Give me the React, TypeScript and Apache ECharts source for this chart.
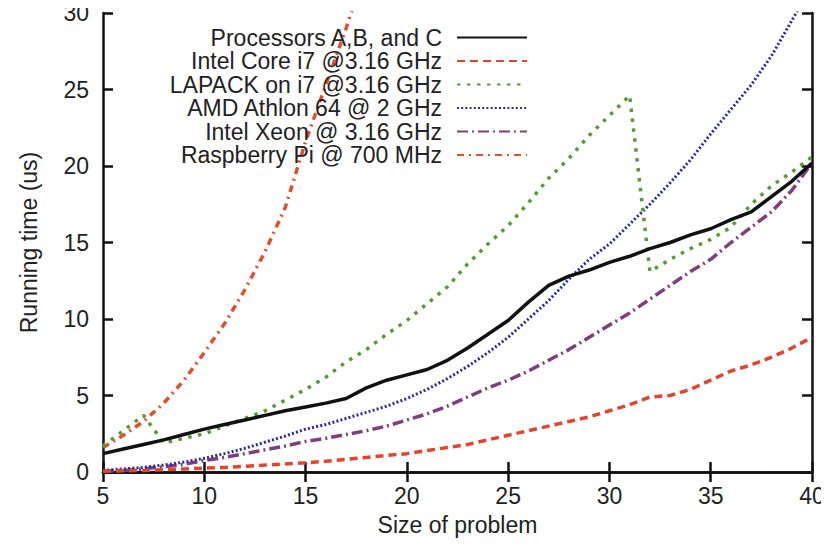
import React, { useEffect, useRef } from "react";
import * as echarts from "echarts";

const sizes = [5, 6, 7, 8, 9, 10, 11, 12, 13, 14, 15, 16, 17, 18, 19, 20, 21, 22, 23, 24, 25, 26, 27, 28, 29, 30, 31, 32, 33, 34, 35, 36, 37, 38, 39, 40];

const processorsABC = [1.2, 1.5, 1.8, 2.1, 2.45, 2.8, 3.1, 3.4, 3.7, 4.0, 4.25, 4.5, 4.8, 5.5, 6.0, 6.35, 6.7, 7.3, 8.1, 9.0, 9.9, 11.1, 12.2, 12.8, 13.2, 13.7, 14.1, 14.6, 15.0, 15.5, 15.9, 16.5, 17.0, 18.0, 19.0, 20.2];
const intelCoreI7 = [0.05, 0.08, 0.1, 0.15, 0.2, 0.25, 0.3, 0.38, 0.45, 0.53, 0.6, 0.7, 0.82, 0.95, 1.08, 1.2, 1.4, 1.6, 1.8, 2.1, 2.4, 2.7, 3.0, 3.3, 3.6, 4.0, 4.4, 4.9, 5.0, 5.4, 6.0, 6.6, 7.0, 7.5, 8.1, 8.8];
const lapackI7 = [1.7, 2.7, 3.7, 1.9, 2.2, 2.5, 3.0, 3.5, 4.0, 4.7, 5.4, 6.2, 7.2, 8.0, 9.0, 9.9, 11.0, 12.1, 13.6, 14.9, 16.1, 17.6, 19.2, 20.5, 22.0, 23.3, 24.6, 13.1, 13.9, 14.6, 15.2, 16.0, 17.5, 18.7, 19.6, 20.6];
const amdAthlon = [0.1, 0.2, 0.3, 0.45, 0.65, 0.9, 1.2, 1.55, 1.95, 2.35, 2.8, 3.1, 3.5, 3.9, 4.3, 4.8, 5.4, 6.1, 6.9, 7.8, 8.8, 10.0, 11.2, 12.6, 13.9, 14.9, 16.2, 17.5, 18.9, 20.4, 22.1, 23.7, 25.3, 27.2, 29.5, 31.8];
const intelXeon = [0.05, 0.1, 0.2, 0.35, 0.5, 0.75, 0.95, 1.2, 1.45, 1.7, 2.0, 2.2, 2.45, 2.7, 3.0, 3.4, 3.8, 4.3, 4.9, 5.5, 6.0, 6.6, 7.3, 8.0, 8.8, 9.6, 10.4, 11.3, 12.2, 13.1, 13.9, 15.0, 16.0, 17.0, 18.4, 20.2];
const raspberrySizes = [5, 6, 7, 8, 9, 10, 11, 12, 13, 14, 15, 16, 17, 18];
const raspberryPi = [1.6, 2.4, 3.3, 4.5, 6.0, 7.8, 9.7, 11.9, 14.4, 17.3, 21.6, 25.3, 29.0, 33.0];

const xTicks = [5, 10, 15, 20, 25, 30, 35, 40];
const yTicks = [0, 5, 10, 15, 20, 25, 30];

const seriesNames = [
  "Processors A,B, and C",
  "Intel Core i7 @3.16 GHz",
  "LAPACK on i7 @3.16 GHz",
  "AMD Athlon 64 @ 2 GHz",
  "Intel Xeon @ 3.16 GHz",
  "Raspberry Pi @ 700 MHz",
];

const FONT = "'Liberation Sans', Arial, Helvetica, sans-serif";
const FS = 23;

function pairs(xs: number[], ys: number[]) {
  return ys.map((y, i) => [xs[i], y]);
}

export default function App() {
  const ref = useRef<HTMLDivElement>(null);
  useEffect(() => {
    if (!ref.current) return;
    const chart = echarts.init(ref.current, undefined, { renderer: "svg" });
    const axisLine = { show: true, lineStyle: { color: "#111", width: 2.5 } };
    const axisTick = { show: true, inside: true, length: 10, lineStyle: { color: "#111", width: 2.5 } };
    const mk = (name: string, data: number[][], color: string, width: number, dash: any) => ({
      type: "line",
      name,
      data,
      showSymbol: false,
      symbol: "none",
      smooth: false,
      clip: true,
      lineStyle: { color, width, type: dash },
      itemStyle: { color },
    });
    chart.setOption({
      animation: false,
      backgroundColor: "#fff",
      textStyle: { fontFamily: FONT },
      grid: { left: 103, right: 17, top: 13, bottom: 74, containLabel: false },
      legend: {
        orient: "vertical",
        align: "right",
        right: 301,
        top: 26,
        padding: 0,
        itemGap: 0.5,
        itemWidth: 70,
        itemHeight: 14,
        selectedMode: false,
        itemStyle: { opacity: 0 },
        textStyle: { fontSize: FS, lineHeight: 23, color: "#222", fontFamily: FONT, padding: [0, 10, 0, 0] },
        data: seriesNames,
      },
      xAxis: [
        {
          type: "value",
          min: 5,
          max: 40,
          interval: 5,
          name: "Size of problem",
          nameLocation: "middle",
          nameGap: 41,
          nameTextStyle: { fontSize: FS, color: "#222", fontFamily: FONT },
          axisLine,
          axisTick,
          splitLine: { show: false },
          axisLabel: {
            fontSize: FS,
            color: "#222",
            margin: 12,
            fontFamily: FONT,
            formatter: (v: number) => (xTicks.includes(v) ? String(v) : ""),
          },
        },
        {
          type: "value",
          position: "top",
          min: 5,
          max: 40,
          interval: 5,
          axisLine,
          axisTick,
          axisLabel: { show: false },
          splitLine: { show: false },
        },
      ],
      yAxis: [
        {
          type: "value",
          min: 0,
          max: 30,
          interval: 5,
          name: "Running time (us)",
          nameLocation: "middle",
          nameGap: 63,
          nameTextStyle: { fontSize: FS, color: "#222", fontFamily: FONT },
          axisLine,
          axisTick,
          splitLine: { show: false },
          axisLabel: {
            fontSize: FS,
            color: "#222",
            margin: 14,
            fontFamily: FONT,
            formatter: (v: number) => (yTicks.includes(v) ? String(v) : ""),
          },
        },
        {
          type: "value",
          position: "right",
          min: 0,
          max: 30,
          interval: 5,
          axisLine,
          axisTick,
          axisLabel: { show: false },
          splitLine: { show: false },
        },
      ],
      series: [
        mk(seriesNames[5], pairs(raspberrySizes, raspberryPi), "#e2502b", 3.5, [7, 5, 2, 5]),
        mk(seriesNames[4], pairs(sizes, intelXeon), "#7e3f7c", 3.5, [11, 4, 2, 4]),
        mk(seriesNames[3], pairs(sizes, amdAthlon), "#2a2aa8", 3, [2, 2.2]),
        mk(seriesNames[2], pairs(sizes, lapackI7), "#5a9a33", 3.5, [3.5, 6.5]),
        mk(seriesNames[1], pairs(sizes, intelCoreI7), "#e5432b", 3.5, [8, 5]),
        mk(seriesNames[0], pairs(sizes, processorsABC), "#111111", 3.5, "solid"),
      ],
    });
    return () => chart.dispose();
  }, []);
  return <div ref={ref} style={{ width: 829, height: 546, margin: -8 }} />;
}
